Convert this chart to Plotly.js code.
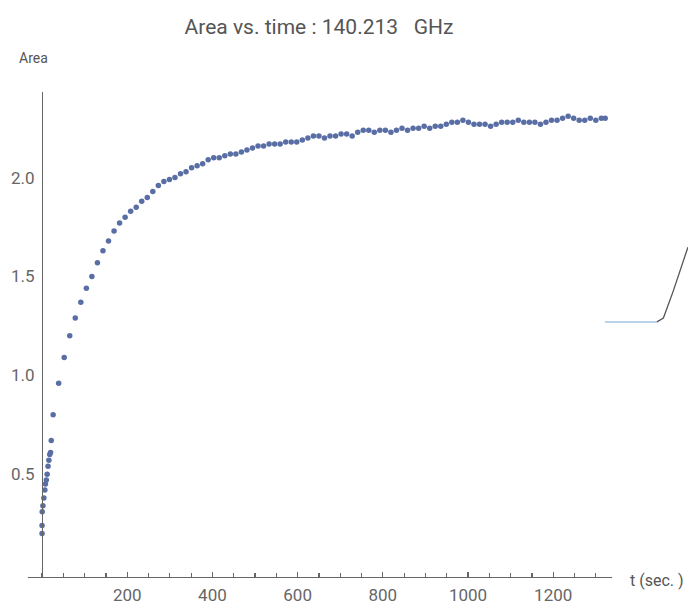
<!DOCTYPE html>
<html>
<head>
<meta charset="utf-8">
<script src="https://cdn.plot.ly/plotly-3.0.1.min.js"></script>
<style>html,body{margin:0;padding:0;background:#fff;}#chart{width:688px;height:608px;}</style>
</head>
<body>
<div id="chart"></div>
<script>
// time in seconds
const timeSec = [0, 0, 0.4, 2, 4.3, 6.6, 8, 10, 12, 14, 16, 18, 20, 21.6,
  26, 39, 52, 65, 78, 91, 104, 117, 130, 143, 156, 169, 182, 195, 208, 221, 234, 247, 260, 273, 286, 299,
  312, 325, 338, 351, 364, 377, 390, 403, 416, 429, 442, 455, 468, 481, 494, 507, 520, 533, 546, 559,
  572, 585, 598, 611, 624, 637, 650, 663, 676, 689, 702, 715, 728, 741, 754, 767, 780, 793, 806, 819,
  832, 845, 858, 871, 884, 897, 910, 923, 936, 949, 962, 975, 988, 1001, 1014, 1027, 1040, 1053, 1066,
  1079, 1092, 1105, 1118, 1131, 1144, 1157, 1170, 1183, 1196, 1209, 1222, 1235, 1248, 1261, 1274, 1287,
  1300, 1313, 1322];
// area values
const areaVal = [0.20, 0.24, 0.31, 0.34, 0.38, 0.42, 0.45, 0.47, 0.50, 0.54, 0.57, 0.60, 0.61, 0.67,
  0.80, 0.96, 1.09, 1.20, 1.29, 1.37, 1.44, 1.50, 1.57, 1.63, 1.68, 1.73, 1.77, 1.80, 1.83, 1.85, 1.88, 1.90, 1.93, 1.96, 1.98, 1.99,
  2.00, 2.02, 2.03, 2.05, 2.06, 2.07, 2.09, 2.10, 2.10, 2.11, 2.12, 2.12, 2.13, 2.14, 2.15, 2.16, 2.16, 2.17, 2.17, 2.17,
  2.18, 2.18, 2.18, 2.19, 2.20, 2.21, 2.21, 2.20, 2.21, 2.21, 2.22, 2.22, 2.21, 2.23, 2.24, 2.24, 2.23, 2.24, 2.24, 2.23,
  2.24, 2.25, 2.24, 2.25, 2.25, 2.26, 2.25, 2.26, 2.26, 2.27, 2.28, 2.28, 2.29, 2.28, 2.27, 2.27, 2.27, 2.26, 2.27,
  2.28, 2.28, 2.28, 2.29, 2.28, 2.28, 2.28, 2.27, 2.28, 2.29, 2.29, 2.30, 2.31, 2.30, 2.29, 2.29, 2.30,
  2.29, 2.30, 2.30];
const xTickVals = [200, 400, 600, 800, 1000, 1200];
const yTickVals = [0.5, 1.0, 1.5, 2.0];
const yTickText = ['0.5', '1.0', '1.5', '2.0'];
const titleText = 'Area vs. time : 140.213 &nbsp; GHz';

const FONT = 'Roboto, Liberation Sans, sans-serif';
const GRAY = '#666666';

const trace = {
  x: timeSec, y: areaVal, type: 'scatter', mode: 'markers',
  marker: {symbol: 'circle', size: 5.5, color: '#5a6ea6'},
  cliponaxis: false, hoverinfo: 'skip'
};

const layout = {
  width: 688, height: 608,
  margin: {l: 28, r: 76, t: 92, b: 31},
  paper_bgcolor: '#ffffff', plot_bgcolor: '#ffffff',
  showlegend: false,
  font: {family: FONT, color: GRAY},
  title: {text: titleText, x: 319/688, xref: 'container', xanchor: 'center',
          y: 1 - 27/608, yref: 'container', yanchor: 'middle',
          font: {family: FONT, size: 21, color: '#555555'}},
  xaxis: {
    range: [-33, 1338], showgrid: false, zeroline: false,
    showline: true, linecolor: GRAY, linewidth: 1.3,
    tickvals: xTickVals, ticks: 'inside', ticklen: 5, tickwidth: 1.2, tickcolor: GRAY,
    minor: {dtick: 50, tick0: 0, ticks: 'inside', ticklen: 4, tickwidth: 1.2, tickcolor: GRAY},
    tickfont: {family: FONT, size: 17, color: GRAY},
    ticklabelstandoff: 2
  },
  yaxis: {
    range: [-0.02, 2.433], anchor: 'free', position: 14/584,
    showgrid: false, zeroline: false,
    showline: true, linecolor: GRAY, linewidth: 1.3,
    tickvals: yTickVals, ticktext: yTickText, ticks: '',
    tickfont: {family: FONT, size: 17, color: GRAY},
    ticklabelstandoff: 4
  },
  annotations: [
    {text: 'Area', xref: 'paper', yref: 'paper', x: (33-28)/584, y: (577-58)/485,
     xanchor: 'center', yanchor: 'middle', showarrow: false,
     font: {family: FONT, size: 14, color: '#555555'}},
    {text: 't (sec. )', xref: 'paper', yref: 'paper', x: (628-28)/584, y: (577-580)/485,
     xanchor: 'left', yanchor: 'middle', showarrow: false,
     font: {family: FONT, size: 16, color: '#555555'}}
  ],
  shapes: [
    {type: 'path', xref: 'paper', yref: 'paper',
     path: 'M 0.988 0.526 L 1.077 0.526',
     line: {color: '#b9d3ea', width: 2}},
    {type: 'path', xref: 'paper', yref: 'paper',
     path: 'M 1.077 0.526 L 1.088 0.534 L 1.105 0.59 L 1.13 0.68',
     line: {color: '#555555', width: 1.3}}
  ]
};

Plotly.newPlot('chart', [trace], layout, {displayModeBar: false, staticPlot: true});
</script>
</body>
</html>
